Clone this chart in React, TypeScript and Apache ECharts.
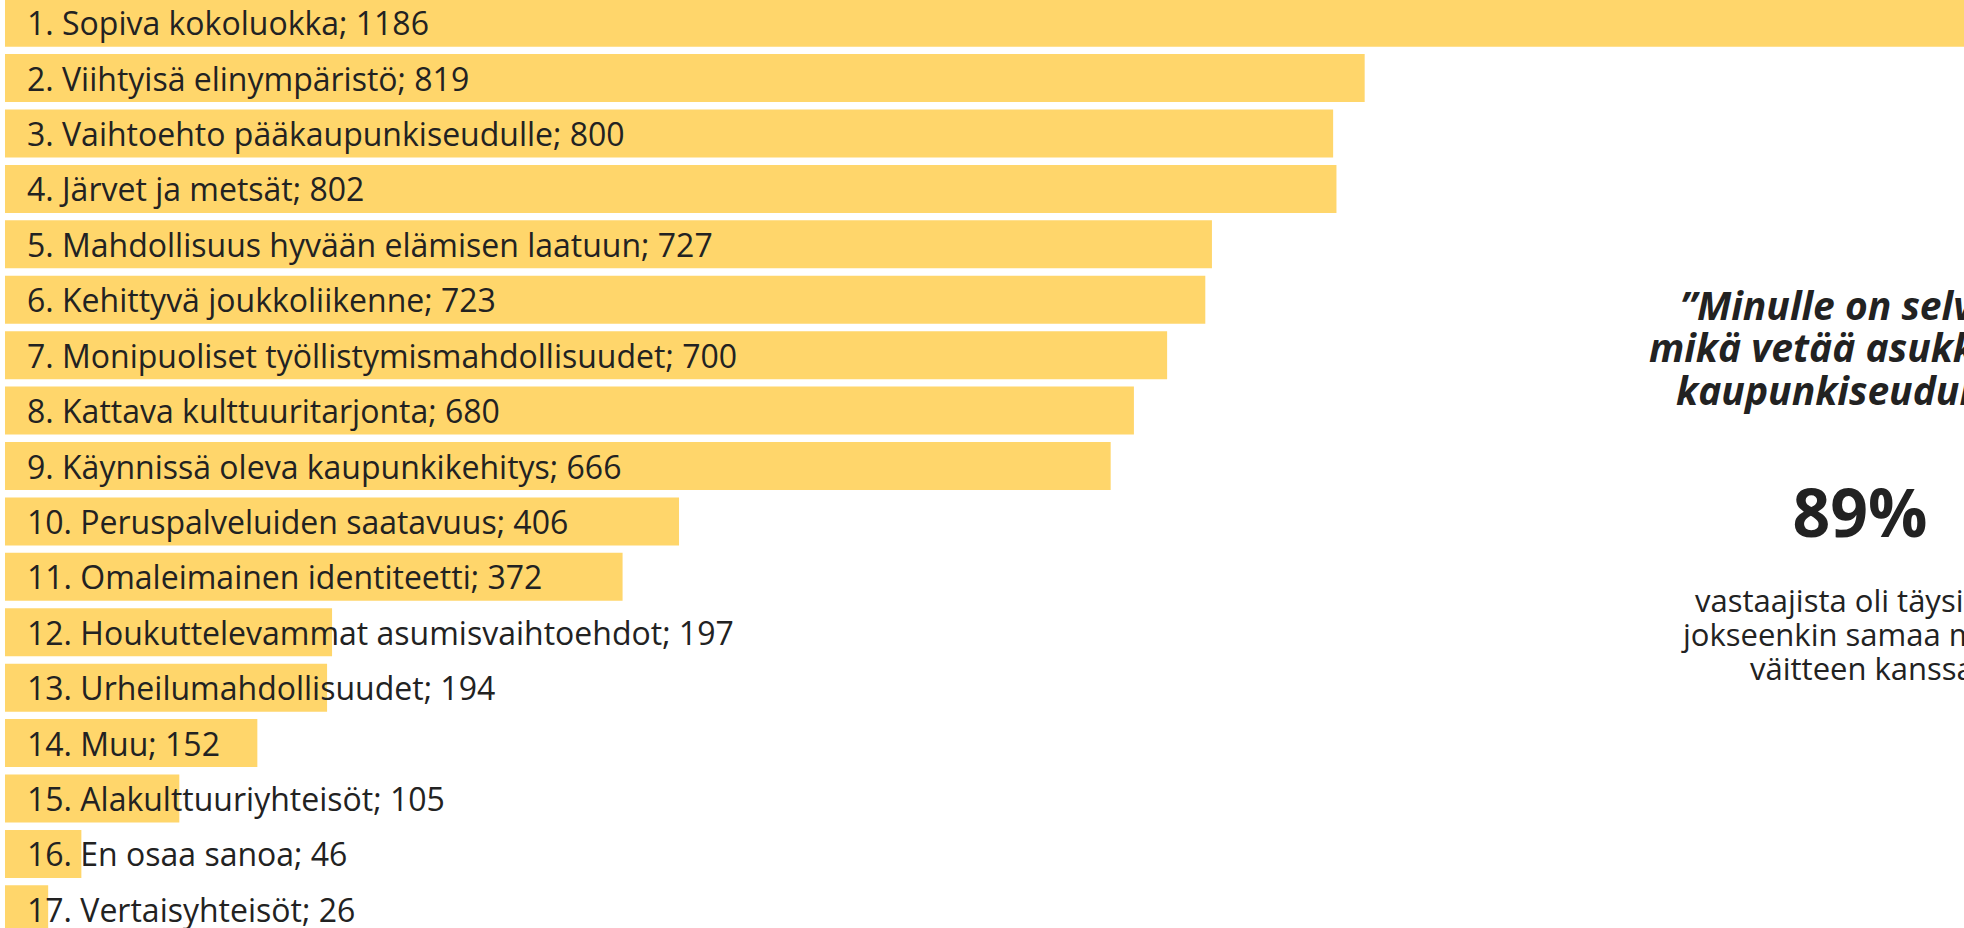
import React, { useEffect, useRef } from "react";
import * as echarts from "echarts";

const categories = [
  "Sopiva kokoluokka",
  "Viihtyisä elinympäristö",
  "Vaihtoehto pääkaupunkiseudulle",
  "Järvet ja metsät",
  "Mahdollisuus hyvään elämisen laatuun",
  "Kehittyvä joukkoliikenne",
  "Monipuoliset työllistymismahdollisuudet",
  "Kattava kulttuuritarjonta",
  "Käynnissä oleva kaupunkikehitys",
  "Peruspalveluiden saatavuus",
  "Omaleimainen identiteetti",
  "Houkuttelevammat asumisvaihtoehdot",
  "Urheilumahdollisuudet",
  "Muu",
  "Alakulttuuriyhteisöt",
  "En osaa sanoa",
  "Vertaisyhteisöt",
];

const values = [1186, 819, 800, 802, 727, 723, 700, 680, 666, 406, 372, 197, 194, 152, 105, 46, 26];

const quoteLines = ["”Minulle on selvää,", "mikä vetää asukkaita", "kaupunkiseudulle.”"];
const bigNumber = "89%";
const noteLines = ["vastaajista oli täysin tai", "jokseenkin samaa mieltä", "väitteen kanssa."];

const TEXT = "#222222";
const BAR = "#FFD66B";
const FONT = '"Open Sans", "Noto Sans", sans-serif';

// the chart canvas is shifted 5px upward so that the first bar touches the top edge
const SHIFT = 5;

export default function App() {
  const ref = useRef<HTMLDivElement>(null);
  useEffect(() => {
    if (!ref.current) return;
    const chart = echarts.init(ref.current, undefined, { renderer: "svg" });
    const quoteX = [1680, 1649, 1676];
    const quoteY = [304, 346.5, 389];
    const noteX = [1695, 1683, 1750];
    const noteY = [600, 634, 668];
    chart.setOption({
      animation: false,
      backgroundColor: "#ffffff",
      grid: { left: 5, right: 0, top: 0, bottom: 0, containLabel: false },
      xAxis: { type: "value", min: 0, max: 1180, show: false },
      yAxis: {
        type: "category",
        inverse: true,
        data: categories,
        show: false,
      },
      series: [
        {
          type: "bar",
          data: values,
          barWidth: 48,
          itemStyle: { color: BAR },
          label: {
            show: true,
            position: "insideLeft",
            distance: 22,
            color: TEXT,
            fontFamily: FONT,
            fontSize: 32,
            lineHeight: 34,
            formatter: (p: any) => `${p.dataIndex + 1}. ${p.name}; ${p.value}`,
          },
          silent: true,
        },
      ],
      graphic: [
        ...quoteLines.map((t, i) => ({
          type: "text",
          x: quoteX[i],
          y: quoteY[i] + SHIFT,
          style: {
            text: t,
            fill: TEXT,
            fontFamily: FONT,
            fontSize: 39,
            lineHeight: 39,
            fontWeight: "bold",
            fontStyle: "italic",
            textAlign: "left",
            textVerticalAlign: "middle",
          },
        })),
        {
          type: "text",
          x: 1860,
          y: 511 + SHIFT,
          style: {
            text: bigNumber,
            fill: TEXT,
            fontFamily: FONT,
            fontSize: 66,
            lineHeight: 66,
            fontWeight: "bold",
            textAlign: "center",
            textVerticalAlign: "middle",
          },
        },
        ...noteLines.map((t, i) => ({
          type: "text",
          x: noteX[i],
          y: noteY[i] + SHIFT,
          style: {
            text: t,
            fill: TEXT,
            fontFamily: FONT,
            fontSize: 31,
            lineHeight: 31,
            textAlign: "left",
            textVerticalAlign: "middle",
          },
        })),
      ],
    });
    return () => chart.dispose();
  }, []);
  return (
    <div style={{ position: "fixed", left: 0, top: 0, width: "1964px", height: "928px", overflow: "hidden", background: "#fff" }}>
      <div
        ref={ref}
        style={{ position: "absolute", left: 0, top: `${-SHIFT}px`, width: "1964px", height: "942px" }}
      />
    </div>
  );
}
